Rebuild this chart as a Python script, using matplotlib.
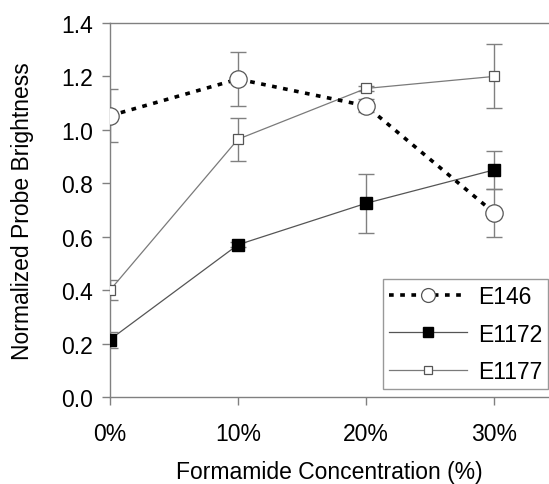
import matplotlib
matplotlib.use('Agg')
import matplotlib.pyplot as plt

plt.rcParams['font.family'] = ['Liberation Sans', 'DejaVu Sans']

conc = [0, 10, 20, 30]
tick_labels = ['0%', '10%', '20%', '30%']

e146 = [1.053, 1.19, 1.09, 0.69]
e146_err = [0.10, 0.10, 0.025, 0.09]

e1172 = [0.215, 0.57, 0.725, 0.85]
e1172_err = [0.03, 0.01, 0.11, 0.07]

e1177 = [0.40, 0.965, 1.155, 1.20]
e1177_err = [0.037, 0.08, 0.01, 0.12]

axis_gray = '#808080'
fs = 16.5

fig = plt.figure(figsize=(5.49, 4.85), dpi=100)
ax = fig.add_axes([0.2004, 0.1794, 0.7996, 0.7711])

eb_kw = dict(fmt='none', ecolor=axis_gray, elinewidth=1.0, capsize=6, capthick=1.0)

# error bars first, lines + markers on top
ax.errorbar(conc, e1177, yerr=e1177_err, zorder=2, **eb_kw)
ax.errorbar(conc, e1172, yerr=e1172_err, zorder=2, **eb_kw)
ax.errorbar(conc, e146, yerr=e146_err, zorder=2, **eb_kw)

l1177, = ax.plot(conc, e1177, color='#7a7a7a', lw=0.9,
                 marker='s', ms=7.5, mfc='white', mec='#555555', mew=0.9,
                 label='E1177', zorder=3)
l1172, = ax.plot(conc, e1172, color='#555555', lw=0.9,
                 marker='s', ms=8.5, mfc='black', mec='black',
                 label='E1172', zorder=4)
l146, = ax.plot(conc, e146, color='black', lw=2.6,
                linestyle=(0, (1.3, 1.8)),
                marker='o', ms=12.5, mfc='white', mec='#555555', mew=0.9,
                label='E146', zorder=5)

ax.set_xlim(0, 34.3)
ax.set_ylim(0, 1.4)
ax.set_xticks(conc)
ax.set_xticklabels(tick_labels)
ax.set_yticks([0.0, 0.2, 0.4, 0.6, 0.8, 1.0, 1.2, 1.4])
ax.set_yticklabels(['%.1f' % v for v in ax.get_yticks()])

for side in ['left', 'bottom', 'top']:
    ax.spines[side].set_color(axis_gray)
    ax.spines[side].set_linewidth(1.0)
ax.spines['right'].set_visible(False)
ax.spines['left'].set_zorder(0)

ax.tick_params(axis='both', direction='out', length=6, width=1.0,
               color=axis_gray, labelsize=fs)
ax.tick_params(axis='x', pad=12)
ax.tick_params(axis='y', pad=6)

ax.set_xlabel('Formamide Concentration (%)', fontsize=fs, labelpad=10.5)
ax.set_ylabel('Normalized Probe Brightness', fontsize=fs, labelpad=20)

leg = ax.legend([l146, l1172, l1177], ['E146', 'E1172', 'E1177'],
                loc='lower right', bbox_to_anchor=(0.998, 0.021),
                fontsize=fs, frameon=True, fancybox=False, handlelength=3.4,
                borderpad=0.25, labelspacing=0.65, handletextpad=0.5,
                borderaxespad=0.0, markerscale=0.8)
leg.get_frame().set_edgecolor(axis_gray)
leg.get_frame().set_linewidth(1.0)

fig.savefig('out.png', dpi=100)
